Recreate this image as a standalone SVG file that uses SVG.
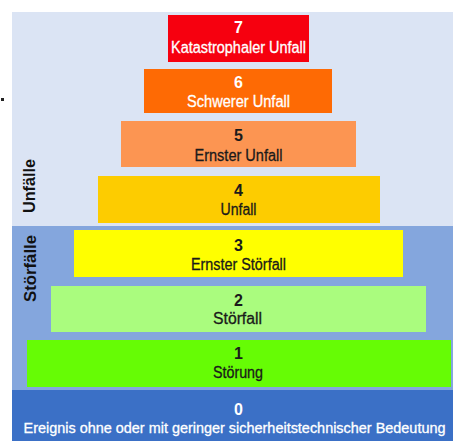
<svg xmlns="http://www.w3.org/2000/svg" width="453" height="441" viewBox="0 0 453 441">
<style>
.num{font-family:"Liberation Sans",Arial,sans-serif;font-weight:bold;font-size:16px;text-anchor:middle}
.lbl{font-family:"Liberation Sans",Arial,sans-serif;font-size:16px;text-anchor:middle;stroke-width:0.3px}
.side{font-family:"Liberation Sans",Arial,sans-serif;font-weight:bold;font-size:16px;text-anchor:middle;fill:#111}
.dk{fill:#1a1a1a;stroke:#1a1a1a}
.wt{fill:#ffffff;stroke:#ffffff}
.num.dk,.num.wt{stroke:none}
</style>
<rect width="453" height="441" fill="#ffffff"/>
<rect x="1" y="98" width="3" height="3" fill="#222"/>
<g id="bands">
<rect x="12" y="12" width="441" height="214" fill="#dbe4f4"/>
<rect x="12" y="226" width="441" height="164" fill="#84a6dd"/>
</g>
<g id="level0">
<rect x="12" y="390" width="441" height="51" fill="#3b70c6"/>
<text class="num wt" x="238.5" y="415">0</text>
<text class="lbl wt" x="234.5" y="432.5" style="font-size:14.5px" textLength="422" lengthAdjust="spacingAndGlyphs">Ereignis ohne oder mit geringer sicherheitstechnischer Bedeutung</text>
</g>
<g id="level1">
<rect x="27" y="340" width="424" height="47" fill="#66fc05"/>
<text class="num dk" x="238.5" y="359">1</text>
<text class="lbl dk" x="238" y="378" textLength="50" lengthAdjust="spacingAndGlyphs">Störung</text>
</g>
<g id="level2">
<rect x="51" y="286" width="375" height="46" fill="#aafc7e"/>
<text class="num dk" x="238.5" y="306">2</text>
<text class="lbl dk" x="237.5" y="324" textLength="49" lengthAdjust="spacingAndGlyphs">Störfall</text>
</g>
<g id="level3">
<rect x="74" y="230" width="329" height="47" fill="#ffff00"/>
<text class="num dk" x="238.5" y="251">3</text>
<text class="lbl dk" x="238.5" y="270" textLength="95" lengthAdjust="spacingAndGlyphs">Ernster Störfall</text>
</g>
<g id="level4">
<rect x="98" y="176" width="282" height="47" fill="#fdcc00"/>
<text class="num dk" x="238.5" y="196">4</text>
<text class="lbl dk" x="238.5" y="215" textLength="36" lengthAdjust="spacingAndGlyphs">Unfall</text>
</g>
<g id="level5">
<rect x="121" y="121" width="235" height="46" fill="#fc9552"/>
<text class="num dk" x="238.5" y="141">5</text>
<text class="lbl dk" x="238.5" y="161" textLength="88" lengthAdjust="spacingAndGlyphs">Ernster Unfall</text>
</g>
<g id="level6">
<rect x="144" y="69" width="188" height="44" fill="#fe6a04"/>
<text class="num wt" x="238.5" y="88">6</text>
<text class="lbl wt" x="238.5" y="107" textLength="103" lengthAdjust="spacingAndGlyphs">Schwerer Unfall</text>
</g>
<g id="level7">
<rect x="168" y="15" width="141" height="47" fill="#f6000f"/>
<text class="num wt" x="238.5" y="33">7</text>
<text class="lbl wt" x="238.5" y="53" textLength="135" lengthAdjust="spacingAndGlyphs">Katastrophaler Unfall</text>
</g>
<g id="side-labels">
<text class="side" transform="translate(35,186) rotate(-90)" textLength="54" lengthAdjust="spacingAndGlyphs">Unfälle</text>
<text class="side" transform="translate(36,268.5) rotate(-90)" textLength="67" lengthAdjust="spacingAndGlyphs">Störfälle</text>
</g>
</svg>
